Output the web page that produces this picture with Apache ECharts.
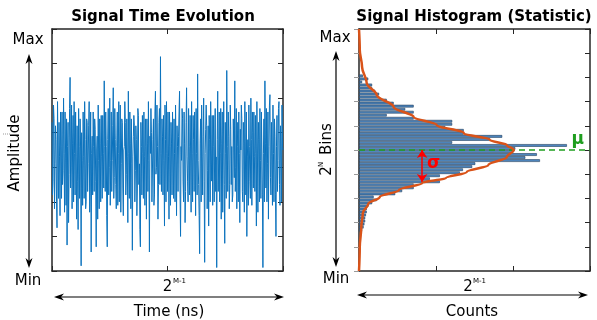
<!DOCTYPE html>
<html>
<head>
<meta charset="utf-8">
<title>Signal Time Evolution / Signal Histogram</title>
<script src="https://cdn.jsdelivr.net/npm/echarts@6.0.0/dist/echarts.min.js"></script>
<style>
  html, body { margin: 0; padding: 0; background: #fff; }
  #chart { width: 597px; height: 320px; }
</style>
</head>
<body>
<div id="chart"></div>
<script>
// left panel: sampled amplitude, 0 = Min ... 7 = Max
const signal = [
  4.3, 2.2, 2.6, 4.8, 4.4, 1.8, 3.1, 4.2, 3.8, 2.0, 1.25, 4.9, 3.5, 2.1, 4.3, 3.3, 1.6, 4.6, 3.6, 2.1,
  4.6, 2.5, 2.9, 5.0, 3.4, 1.7, 4.6, 3.5, 1.9, 4.4, 0.75, 3.6, 4.3, 1.4, 2.8, 4.7, 5.6, 2.4, 3.0, 4.8,
  1.8, 3.7, 4.5, 2.0, 4.9, 3.4, 2.2, 4.6, 3.3, 1.5, 4.2, 2.6, 1.2, 4.7, 3.6, 2.1, 4.4, 3.5, 0.15, 4.0,
  3.2, 1.9, 4.6, 3.3, 2.1, 4.9, 3.8, 1.8, 2.0, 4.4, 4.3, 2.3, 3.1, 4.2, 4.9, 1.7, 2.4, 4.6, 0.55, 3.4,
  3.9, 2.2, 4.6, 3.6, 2.3, 4.4, 4.1, 2.6, 0.7, 3.5, 3.9, 1.5, 4.8, 3.2, 1.8, 4.4, 3.7, 2.0, 4.5, 3.3,
  2.1, 4.5, 3.4, 2.4, 5.5, 3.6, 2.3, 4.6, 3.6, 1.6, 0.7, 3.8, 4.7, 2.2, 3.0, 5.0, 1.9, 3.2, 4.6, 2.3,
  3.2, 4.2, 5.3, 2.1, 2.7, 4.7, 3.8, 2.5, 1.8, 3.6, 4.6, 1.9, 3.4, 4.9, 2.0, 3.7, 4.8, 1.7, 3.1, 4.4,
  4.3, 2.4, 1.6, 3.5, 3.6, 4.9, 4.3, 2.2, 2.8, 4.4, 3.3, 1.4, 5.2, 3.4, 2.1, 4.6, 3.7, 1.8, 4.4, 3.1,
  0.6, 3.3, 3.9, 4.5, 4.2, 2.0, 2.9, 4.2, 3.8, 1.6, 2.4, 4.7, 4.5, 2.5, 3.1, 1.2, 0.7, 4.3, 3.6, 2.2,
  4.5, 3.4, 2.1, 4.6, 3.3, 1.9, 4.4, 3.6, 1.5, 4.4, 3.7, 2.3, 4.9, 3.2, 0.55, 3.9, 3.4, 4.7, 4.0, 2.0,
  2.0, 3.8, 4.4, 1.9, 2.2, 4.6, 5.2, 2.8, 3.0, 4.8, 3.6, 1.5, 2.5, 4.3, 4.7, 2.5, 6.2, 3.4, 2.3, 4.4,
  3.9, 2.2, 4.5, 3.2, 1.3, 4.8, 3.8, 2.0, 4.9, 3.4, 2.3, 4.6, 3.3, 1.5, 4.6, 3.6, 1.9, 4.3, 3.7, 2.2,
  4.6, 3.3, 2.1, 4.4, 3.4, 2.0, 4.8, 3.5, 1.6, 4.2, 3.6, 2.3, 3.9, 4.6, 5.2, 2.2, 1.0, 3.6, 3.2, 4.7,
  4.4, 2.6, 2.0, 4.6, 3.7, 1.4, 2.3, 4.3, 5.3, 3.3, 2.6, 2.0, 4.7, 3.6, 2.2, 4.5, 3.5, 1.7, 4.9, 3.4,
  2.0, 4.5, 3.8, 2.3, 4.6, 3.5, 1.6, 4.7, 3.4, 2.2, 5.7, 3.2, 2.5, 1.6, 0.5, 3.7, 4.4, 2.0, 4.8, 3.3,
  2.2, 3.9, 5.0, 2.6, 0.25, 3.4, 4.1, 4.8, 4.2, 1.8, 2.9, 4.2, 1.3, 4.5, 3.8, 2.0, 4.9, 3.5, 2.6, 4.5,
  1.9, 3.6, 4.5, 2.0, 3.5, 4.7, 2.3, 3.3, 0.1, 3.8, 5.2, 2.3, 3.3, 4.6, 2.0, 3.4, 4.7, 1.5, 3.7, 4.6,
  1.7, 3.5, 4.9, 2.5, 0.8, 4.3, 3.4, 2.1, 5.8, 3.6, 2.3, 4.6, 3.9, 1.8, 2.5, 4.8, 4.1, 2.5, 3.6, 2.0,
  2.2, 4.4, 4.4, 2.7, 5.5, 2.3, 3.0, 4.7, 1.8, 3.6, 4.3, 2.0, 4.6, 3.4, 1.4, 4.1, 3.5, 4.8, 4.4, 2.3,
  2.0, 4.3, 3.7, 1.7, 4.9, 3.5, 2.2, 4.6, 1.0, 3.3, 3.8, 1.9, 4.8, 3.6, 2.6, 2.1, 5.0, 3.8, 1.9, 4.6,
  4.0, 2.4, 4.6, 3.3, 2.3, 4.5, 3.4, 1.3, 4.9, 3.5, 1.7, 4.3, 3.8, 2.0, 4.7, 3.2, 2.1, 4.6, 3.5, 2.2,
  0.1, 3.4, 4.4, 2.0, 5.5, 3.7, 2.4, 4.7, 2.0, 3.1, 4.6, 1.5, 3.6, 4.8, 5.1, 2.7, 2.2, 4.3, 3.3, 1.9,
  4.8, 3.4, 2.0, 4.4, 3.9, 2.2, 1.0, 3.6, 4.5, 2.3, 3.2, 4.7, 4.9, 2.5, 1.9, 4.2, 3.7, 2.0, 4.8, 3.6, 3.5
]

// right panel: histogram counts per bin, bottom bin first (80 bins from Min to Max)
const histCounts = [
  0, 0, 0, 0, 0, 0, 0, 0, 0, 0, 0, 0, 0,
  0.04, 0.06, 0.07, 0.08, 0.08, 0.09, 0.10, 0.10, 0.12, 0.17, 0.23, 0.19, 0.47, 0.56, 0.71, 0.71,
  1.05, 0.92, 1.05, 1.31, 1.35, 1.47, 1.51, 2.35, 2.16, 2.31, 2.00, 2.03, 2.70, 1.21, 1.70, 1.86,
  1.36, 1.36, 1.12, 1.21, 1.21, 0.71, 0.36, 0.71, 0.60, 0.71, 0.45, 0.36, 0.26, 0.26, 0.21, 0.17,
  0.17, 0.04, 0.12, 0.05,
  0, 0, 0, 0, 0, 0, 0, 0, 0, 0, 0, 0, 0, 0, 0
]

// fitted curve: counts and bin position (0 = Min, 10 = Max)
const fitCounts = [0.00, 0.01, 0.03, 0.05, 0.12, 0.27, 0.52, 0.82, 1.13, 1.40, 1.68, 1.92, 2.01,
  1.92, 1.70, 1.36, 1.01, 0.71, 0.45, 0.23, 0.10, 0.04, 0.01, 0.00]
const fitBins = [0.00, 0.99, 1.82, 2.40, 2.77, 3.06, 3.35, 3.64, 3.84, 4.09, 4.38, 4.71, 5.00,
  5.21, 5.41, 5.70, 6.03, 6.36, 6.78, 7.27, 7.77, 8.43, 9.13, 10.00]

const mu = 5.0
const sigmaArrow = {count: 0.82, from: 5.0, to: 3.68}
const sigmaLabelAt = [0.97, 4.44]

const FONT = 'DejaVu Sans'
const INK = '#000'
const FRAME = '#262626'
const GREEN = '#1f9e1f'
const RED = '#ff0000'

const chart = echarts.init(document.getElementById('chart'))

function frameAxis(extra) {
  return Object.assign({
    type: 'value',
    axisLine: {show: true, onZero: false, lineStyle: {color: FRAME, width: 1.5}},
    axisTick: {show: true, inside: true, length: 5, lineStyle: {color: FRAME, width: 1}},
    axisLabel: {show: false},
    splitLine: {show: false}
  }, extra)
}

function txt(text, x, y, size, opt = {}) {
  return {
    type: 'text', x, y, rotation: opt.rotation || 0,
    style: {
      text, fill: opt.color || INK, fontFamily: FONT, fontSize: size,
      fontWeight: opt.bold ? 'bold' : 'normal',
      textAlign: opt.align || 'center', align: opt.align || 'center',
      textVerticalAlign: 'middle', verticalAlign: 'middle'
    }
  }
}

function head(tx, ty, dx, dy) {
  const len = 10, half = 3.5, notch = 7
  const bx = tx - dx * len, by = ty - dy * len
  return {
    type: 'polygon',
    shape: {points: [[tx, ty], [bx - dy * half, by + dx * half], [tx - dx * notch, ty - dy * notch], [bx + dy * half, by - dx * half]]},
    style: {fill: INK}
  }
}

function doubleArrow(x1, y1, x2, y2) {
  const L = Math.hypot(x2 - x1, y2 - y1), dx = (x2 - x1) / L, dy = (y2 - y1) / L
  return [
    {type: 'line', shape: {x1: x1 + dx * 6, y1: y1 + dy * 6, x2: x2 - dx * 6, y2: y2 - dy * 6}, style: {stroke: INK, lineWidth: 1.2}},
    head(x1, y1, -dx, -dy),
    head(x2, y2, dx, dy)
  ]
}

const graphics = [
  txt('Signal Time Evolution', 163, 17, 15, {bold: true}),
  txt('Signal Histogram (Statistic)', 474, 17, 15, {bold: true}),

  // left panel annotations
  txt('Max', 28, 40, 15),
  txt('Min', 28, 281, 15),
  ...doubleArrow(29, 54, 29, 268),
  txt('Amplitude', 15, 153, 15, {rotation: Math.PI / 2}),
  {type: 'line', shape: {x1: 3, y1: 134, x2: 10, y2: 134}, style: {stroke: '#999', lineWidth: 1, lineDash: [1, 1]}},
  txt('2', 167.5, 287.5, 15),
  txt('M-1', 173, 281, 7, {align: 'left'}),
  ...doubleArrow(54, 297, 284, 297),
  txt('Time (ns)', 169, 312, 15),

  // right panel annotations
  txt('Max', 335, 38, 15),
  txt('Min', 336, 279, 15),
  ...doubleArrow(336, 51, 336, 267),
  {
    type: 'group', x: 327, y: 150, rotation: Math.PI / 2,
    children: [
      txt('2', -21, 0, 15),
      txt('N', -14.5, -6, 7),
      txt('Bins', -5, 0, 15, {align: 'left'})
    ]
  },
  txt('2', 468, 287, 15),
  txt('M-1', 473, 281, 7, {align: 'left'}),
  ...doubleArrow(357, 295, 588, 295),
  txt('Counts', 472, 312, 15)
]

const lastSample = signal.length - 1

const option = {
  animation: false,
  grid: [
    {left: 52, top: 29, width: 231, height: 242},
    {left: 359, top: 29, width: 231, height: 242}
  ],
  xAxis: [
    frameAxis({gridIndex: 0, position: 'bottom', min: 0, max: lastSample, interval: lastSample / 2}),
    frameAxis({gridIndex: 0, position: 'top', min: 0, max: lastSample, interval: lastSample / 2}),
    frameAxis({gridIndex: 1, position: 'bottom', min: 0, max: 3, interval: 1}),
    frameAxis({gridIndex: 1, position: 'top', min: 0, max: 3, interval: 1})
  ],
  yAxis: [
    frameAxis({gridIndex: 0, position: 'left', min: 0, max: 7, interval: 1}),
    frameAxis({gridIndex: 0, position: 'right', min: 0, max: 7, interval: 1}),
    frameAxis({
      gridIndex: 1, position: 'left', min: 0, max: 10, interval: 1,
      axisTick: {show: true, inside: false, length: 5, lineStyle: {color: '#9a9a9a'}}
    }),
    frameAxis({gridIndex: 1, position: 'right', min: 0, max: 10, interval: 1}),
    {type: 'category', gridIndex: 1, show: false, data: histCounts.map((_, i) => i)}
  ],
  series: [
    {
      type: 'line', xAxisIndex: 0, yAxisIndex: 0,
      data: signal.map((v, i) => [i, v]),
      showSymbol: false,
      lineStyle: {color: '#0b72bd', width: 1},
      z: 2
    },
    {
      type: 'bar', xAxisIndex: 2, yAxisIndex: 4,
      data: histCounts.map(v => v || '-'),
      barCategoryGap: '12%',
      itemStyle: {color: '#4f87bf', borderColor: '#24405e', borderWidth: 0.6},
      z: 2
    },
    {
      type: 'line', xAxisIndex: 2, yAxisIndex: 2,
      data: fitCounts.map((c, i) => [c, fitBins[i]]),
      showSymbol: false,
      smooth: 0.35,
      smoothMonotone: 'y',
      lineStyle: {color: '#d95319', width: 2.5},
      z: 5,
      markLine: {
        silent: true,
        symbol: ['none', 'none'],
        data: [
          {
            yAxis: mu,
            lineStyle: {color: GREEN, type: [6, 4], width: 1.5},
            label: {show: true, position: 'insideEndTop', formatter: 'μ', color: GREEN, fontWeight: 'bold', fontSize: 17, fontFamily: FONT, distance: [6, 2]}
          },
          [
            {coord: [sigmaArrow.count, sigmaArrow.from], symbol: 'arrow', symbolSize: 8},
            {
              coord: [sigmaArrow.count, sigmaArrow.to], symbol: 'arrow', symbolSize: 8,
              lineStyle: {color: RED, type: 'solid', width: 1.5},
              label: {show: false}
            }
          ]
        ]
      },
      markPoint: {
        silent: true,
        symbol: 'circle',
        symbolSize: 0,
        data: [{coord: sigmaLabelAt}],
        label: {show: true, position: 'inside', formatter: 'σ', color: RED, fontWeight: 'bold', fontSize: 17, fontFamily: FONT}
      }
    }
  ],
  graphic: graphics
}

chart.setOption(option)
</script>
</body>
</html>
